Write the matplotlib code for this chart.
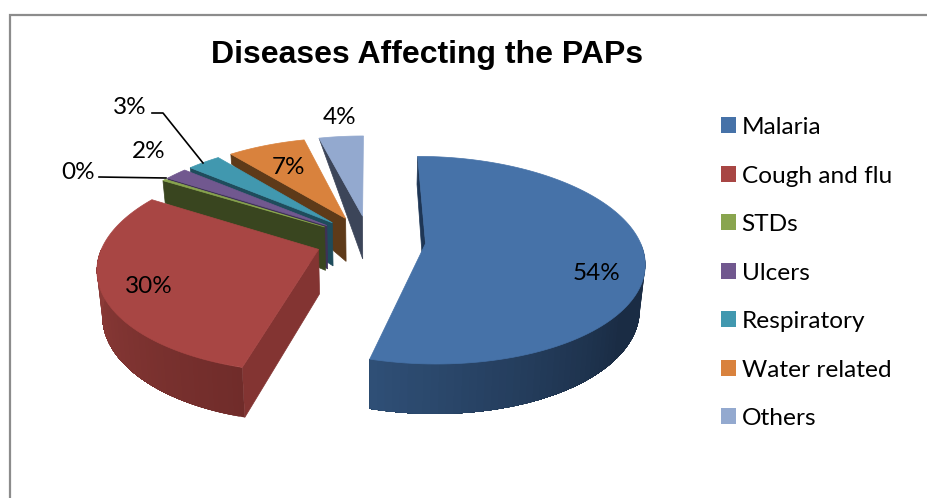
import numpy as np
import matplotlib
matplotlib.use("Agg")
import matplotlib.pyplot as plt
from matplotlib.patches import Polygon, Patch
from matplotlib.colors import to_rgb

title = "Diseases Affecting the PAPs"
categories = ["Malaria", "Cough and flu", "STDs", "Ulcers", "Respiratory", "Water related", "Others"]
values = [54.4, 29.7, 0.3, 2, 3, 7, 4]
top_colors = ["#4672A8", "#A84644", "#89A54E", "#71588F", "#4198AF", "#D9823D", "#93A9CF"]
face_colors = ["#1E3655", "#833432", "#39451F", "#3F3157", "#1F4C5C", "#5E3A19", "#3C4559"]
rim_dark = ["#1A2C44", "#702C2A", "#39451F", "#3F3157", "#1F4C5C", "#5E3A19", "#3C4559"]
rim_light = ["#2F4F76", "#8F3C39", "#39451F", "#3F3157", "#1F4C5C", "#5E3A19", "#3C4559"]
rim_taper = [0.7, 1, 0.55, 0.15, 0.15, 0.25, 0]
explode = [0.265, 0.25, 0.25, 0.25, 0.25, 0.25, 0.25]
label_xy = [(597, 273), (149, 286), (78, 172), (149, 151), (130, 107), (289, 167), (340, 117)]

# layout of the projected pie (pixels)
CX, CY, A, B, P, D = 369, 240, 214, 100, 0.16, 44

fig = plt.figure(figsize=(9.28, 4.98), dpi=100)
ax = fig.add_axes([0, 0, 1, 1])
ax.set_xlim(0, 928)
ax.set_ylim(498, 0)
ax.axis("off")

# chart frame, cut off by the image on the right and bottom
ax.plot([10, 10, 928], [498, 15, 15], color="#8C8C8C", lw=1.6, solid_joinstyle="miter")


def project(u, v):
    s = 1 / (1 - P * v)
    return CX + A * u * s, CY + B * v * s, s


def top_pt(theta, r, mid, e):
    u = e * np.sin(mid) + r * np.sin(theta)
    v = -e * np.cos(mid) - r * np.cos(theta)
    return project(u, v)


def drop(x, y, s, k=1.0):
    return CX + (x - CX) * (1 - 0.02 * k), y + k * D * s ** 0.7


fractions = np.array(values, dtype=float) / sum(values)
edges = np.concatenate([[0], np.cumsum(fractions)]) * 2 * np.pi
order = [6, 5, 4, 3, 2, 1, 0]

for i in order:
    t0, t1 = edges[i], edges[i + 1]
    mid = (t0 + t1) / 2
    e = explode[i]
    # start radial face
    ax_pt = top_pt(t0, 0, mid, e)
    rim_pt = top_pt(t0, 1, mid, e)
    quad = [ax_pt[:2], rim_pt[:2], drop(*rim_pt, k=rim_taper[i]), drop(*ax_pt)]
    ax.add_patch(Polygon(quad, closed=True, fc=face_colors[i], ec=face_colors[i], lw=0.5, zorder=2))
    # outer curved wall, front half only; each strip runs under the next so no seams show
    lo, hi = max(t0, np.pi / 2), min(t1, 3 * np.pi / 2)
    if hi > lo:
        th = np.linspace(lo, hi, 61)
        dk, lt = np.array(to_rgb(rim_dark[i])), np.array(to_rgb(rim_light[i]))
        plateau = 0.35 if i == 0 else 0.0
        for j in range(len(th) - 1):
            f = np.clip((j / (len(th) - 2) - plateau) / (1 - plateau), 0, 1)
            col = dk + (lt - dk) * f
            arc = [top_pt(t, 1, mid, e) for t in th[j:]]
            poly = [a[:2] for a in arc] + [drop(*a) for a in arc[::-1]]
            ax.add_patch(Polygon(poly, closed=True, fc=col, ec="none", lw=0, zorder=2))
    # top face
    th = np.linspace(t0, t1, 120)
    pts = [ax_pt[:2]] + [top_pt(t, 1, mid, e)[:2] for t in th]
    ax.add_patch(Polygon(pts, closed=True, fc=top_colors[i], ec=top_colors[i], lw=0.5, zorder=2))

# leader lines
ax.plot([152, 163, 203], [113, 113, 163], color="black", lw=1.2, zorder=3)
ax.plot([99, 166], [177, 178], color="black", lw=1.2, zorder=3)

label_font = "Lato"
for v, (x, y) in zip(values, label_xy):
    ax.text(x, y, f"{round(v)}%", ha="center", va="center", fontsize=17.5, family=label_font,
            color="black", zorder=4)

ax.text(427, 55, title, ha="center", va="center", fontsize=23, fontweight="bold",
        family="Liberation Sans", color="black")

handles = [Patch(fc=c, ec=c, lw=0) for c in top_colors]
ax.legend(handles, categories, loc="upper left", bbox_to_anchor=(721 / 928, 1 - 117 / 498),
          frameon=False, borderpad=0, borderaxespad=0, handlelength=0.62, handleheight=0.62,
          handletextpad=0.22, labelspacing=1.125, prop={"family": label_font, "size": 17.6})

fig.savefig("out.png", dpi=100)
